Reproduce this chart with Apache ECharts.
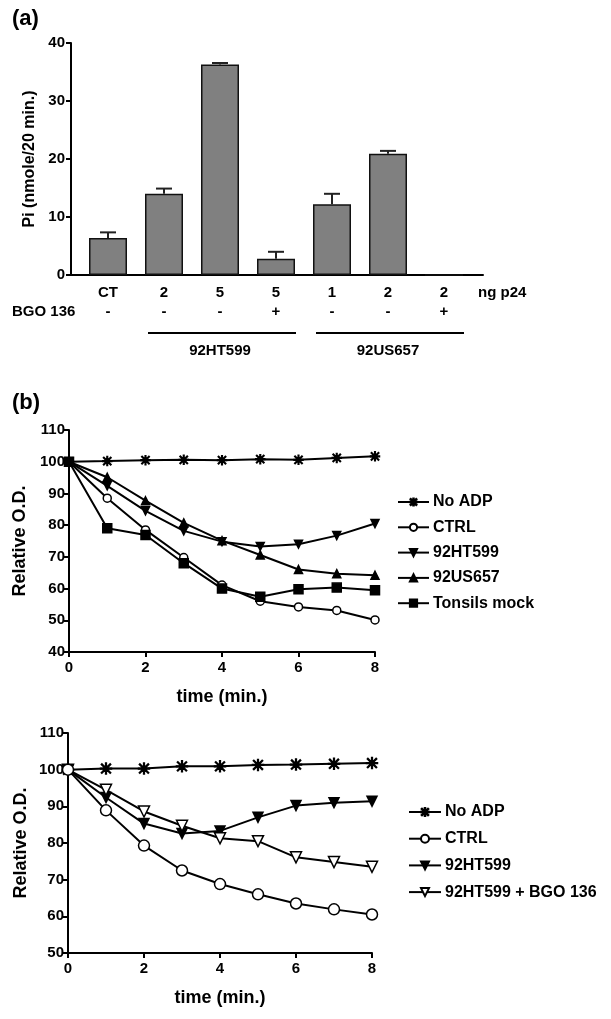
<!DOCTYPE html>
<html>
<head>
<meta charset="utf-8">
<script src="https://cdn.jsdelivr.net/npm/echarts@6/dist/echarts.min.js"></script>
<style>
html,body{margin:0;padding:0;background:#fff;}
#c{width:611px;height:1019px;}
</style>
</head>
<body>
<div id="c"></div>
<script>
// ---- Panel (a) data ----
const aCategories = ['CT', '2', '5', '5', '1', '2', '2'];
const aBgo = ['-', '-', '-', '+', '-', '-', '+'];
const aPi = [6.4, 14.0, 36.3, 2.8, 12.2, 20.9, 0];
const aPiErr = [0.95, 0.9, 0.25, 1.2, 1.8, 0.5, 0];
const aGroups = [
  { label: '92HT599', from: 1, to: 3 },
  { label: '92US657', from: 4, to: 6 }
];

// ---- Panel (b) data ----
const time = [0, 1, 2, 3, 4, 5, 6, 7, 8];
const b1NoAdp = [100, 100.2, 100.5, 100.6, 100.5, 100.8, 100.6, 101.2, 101.7];
const b1Ctrl = [100, 88.5, 78.5, 69.8, 61.1, 56.0, 54.2, 53.1, 50.1];
const b1Ht = [100, 92.4, 84.5, 78.2, 74.8, 73.3, 74.0, 76.7, 80.5];
const b1Us = [100, 95.1, 87.7, 80.7, 75.1, 70.6, 66.0, 64.7, 64.2];
const b1Tonsils = [100, 79.0, 76.9, 68.0, 60.0, 57.4, 59.8, 60.3, 59.5];

const b2NoAdp = [100, 100.3, 100.3, 100.9, 100.9, 101.3, 101.4, 101.6, 101.8];
const b2Ctrl = [100, 88.9, 79.3, 72.5, 68.8, 66.0, 63.5, 61.9, 60.5];
const b2Ht = [100, 92.4, 85.3, 82.6, 83.3, 87.0, 90.2, 91.0, 91.4];
const b2HtBgo = [100, 94.5, 88.6, 84.7, 81.3, 80.5, 76.1, 74.8, 73.5];

const FONT = '"Liberation Sans", Arial, Helvetica, sans-serif';
const STAR = 'path://M9.3,0L10.7,0L10.7,20L9.3,20Z M1.5,2.5L2.5,1.5L18.5,17.5L17.5,18.5Z M17.5,1.5L18.5,2.5L2.5,18.5L1.5,17.5Z M0,9.3L20,9.3L20,10.7L0,10.7Z';

function pairs(ys) { return time.map((t, i) => [t, ys[i]]); }

const axisLineStyle = { show: true, lineStyle: { color: '#000', width: 2 } };
const tickStyle = { show: true, inside: false, length: 5, lineStyle: { color: '#000', width: 2 } };
const lblStyle = { color: '#000', fontFamily: FONT, fontWeight: 'bold', fontSize: 15 };

function lineSeries(name, ys, xi, symbol, size, filled, rotate) {
  return {
    type: 'line', name: name, data: pairs(ys), xAxisIndex: xi, yAxisIndex: xi,
    symbol: symbol, symbolSize: size, symbolRotate: rotate || 0, showAllSymbol: true,
    lineStyle: { color: '#000', width: 2 },
    itemStyle: { color: filled ? '#000' : '#fff', borderColor: '#000', borderWidth: 1.5 },
    emphasis: { disabled: true }, animation: false, z: 3
  };
}

const chart = echarts.init(document.getElementById('c'), null, { renderer: 'canvas' });

const option = {
  animation: false,
  backgroundColor: '#fff',
  textStyle: { fontFamily: FONT },
  grid: [
    { left: 71, top: 43, width: 412, height: 232 },   // a: axes frame
    { left: 80, top: 43, width: 392, height: 232 },   // a: bars
    { left: 69, top: 430, width: 306, height: 222 },  // b top
    { left: 68, top: 733, width: 304, height: 220 }   // b bottom
  ],
  xAxis: [
    { gridIndex: 0, type: 'value', min: 0, max: 1, axisLine: axisLineStyle, axisTick: { show: false }, axisLabel: { show: false }, splitLine: { show: false } },
    { gridIndex: 1, type: 'category', data: aCategories, axisLine: { show: false }, axisTick: { show: false },
      axisLabel: {
        interval: 0, margin: 8,
        formatter: (v, i) => '{c|' + v + '}\n{b|' + aBgo[i] + '}',
        rich: { c: Object.assign({ lineHeight: 19 }, lblStyle), b: Object.assign({ lineHeight: 19 }, lblStyle) }
      } },
    { gridIndex: 2, type: 'value', min: 0, max: 8, interval: 2, axisLine: axisLineStyle, axisTick: tickStyle,
      axisLabel: Object.assign({ margin: 8 }, lblStyle), splitLine: { show: false },
      name: 'time (min.)', nameLocation: 'middle', nameGap: 36,
      nameTextStyle: { color: '#000', fontFamily: FONT, fontWeight: 'bold', fontSize: 18 } },
    { gridIndex: 3, type: 'value', min: 0, max: 8, interval: 2, axisLine: axisLineStyle, axisTick: tickStyle,
      axisLabel: Object.assign({ margin: 8 }, lblStyle), splitLine: { show: false },
      name: 'time (min.)', nameLocation: 'middle', nameGap: 36,
      nameTextStyle: { color: '#000', fontFamily: FONT, fontWeight: 'bold', fontSize: 18 } }
  ],
  yAxis: [
    { gridIndex: 0, type: 'value', min: 0, max: 40, interval: 10, axisLine: axisLineStyle, axisTick: tickStyle,
      axisLabel: Object.assign({ margin: 6 }, lblStyle), splitLine: { show: false },
      name: 'Pi (nmole/20 min.)', nameLocation: 'middle', nameGap: 28,
      nameTextStyle: { color: '#000', fontFamily: FONT, fontWeight: 'bold', fontSize: 16 } },
    { gridIndex: 1, type: 'value', min: 0, max: 40, show: false, splitLine: { show: false } },
    { gridIndex: 2, type: 'value', min: 40, max: 110, interval: 10, axisLine: axisLineStyle, axisTick: tickStyle,
      axisLabel: Object.assign({ margin: 4 }, lblStyle), splitLine: { show: false },
      name: 'Relative O.D.', nameLocation: 'middle', nameGap: 36,
      nameTextStyle: { color: '#000', fontFamily: FONT, fontWeight: 'bold', fontSize: 18 } },
    { gridIndex: 3, type: 'value', min: 50, max: 110, interval: 10, axisLine: axisLineStyle, axisTick: tickStyle,
      axisLabel: Object.assign({ margin: 4 }, lblStyle), splitLine: { show: false },
      name: 'Relative O.D.', nameLocation: 'middle', nameGap: 38,
      nameTextStyle: { color: '#000', fontFamily: FONT, fontWeight: 'bold', fontSize: 18 } }
  ],
  legend: [
    { orient: 'vertical', left: 397, top: 494, padding: 0, itemWidth: 31, itemHeight: 9, itemGap: 9.3,
      data: ['No ADP', 'CTRL', '92HT599', '92US657', 'Tonsils mock'],
      textStyle: { color: '#000', fontFamily: FONT, fontWeight: 'bold', fontSize: 16, lineHeight: 16, padding: [0, 0, 0, -1] },
      selectedMode: false },
    { orient: 'vertical', left: 408, top: 804, padding: 0, itemWidth: 32, itemHeight: 10, itemGap: 10.7,
      data: ['No ADP#2', 'CTRL#2', '92HT599#2', '92HT599 + BGO 136'],
      formatter: n => n.replace('#2', ''),
      textStyle: { color: '#000', fontFamily: FONT, fontWeight: 'bold', fontSize: 16, lineHeight: 16, padding: [0, 0, 0, -1] },
      selectedMode: false }
  ],
  series: [
    { type: 'bar', xAxisIndex: 1, yAxisIndex: 1, data: aPi, barWidth: 38,
      itemStyle: { color: '#808080', borderColor: '#111', borderWidth: 1.5 }, emphasis: { disabled: true }, z: 2 },
    { type: 'custom', xAxisIndex: 1, yAxisIndex: 1, z: 3,
      data: aPi.map((v, i) => [i, v, aPiErr[i]]),
      renderItem: function (params, api) {
        const e = api.value(2);
        if (!e) return null;
        const b = api.coord([api.value(0), api.value(1)]);
        const t = api.coord([api.value(0), api.value(1) + e]);
        const st = { stroke: '#222', lineWidth: 2 };
        return { type: 'group', children: [
          { type: 'line', shape: { x1: b[0], y1: b[1], x2: t[0], y2: t[1] }, style: st },
          { type: 'line', shape: { x1: t[0] - 8, y1: t[1], x2: t[0] + 8, y2: t[1] }, style: st }
        ] };
      } },
    lineSeries('No ADP', b1NoAdp, 2, STAR, 9, true),
    lineSeries('92US657', b1Us, 2, 'triangle', 8, true),
    lineSeries('92HT599', b1Ht, 2, 'triangle', 8, true, 180),
    lineSeries('CTRL', b1Ctrl, 2, 'circle', 8, false),
    lineSeries('Tonsils mock', b1Tonsils, 2, 'rect', 9, true),
    lineSeries('No ADP#2', b2NoAdp, 3, STAR, 11, true),
    lineSeries('92HT599#2', b2Ht, 3, 'triangle', 10, true, 180),
    lineSeries('92HT599 + BGO 136', b2HtBgo, 3, 'triangle', 11, false, 180),
    lineSeries('CTRL#2', b2Ctrl, 3, 'circle', 11, false)
  ]
};
chart.setOption(option);

// annotations positioned through the axes
const g = [];
const txt = (text, x, y, size, align) => ({ type: 'text', x: x, y: y,
  style: { text: text, fill: '#000', font: 'bold ' + size + 'px ' + FONT, textAlign: align || 'left', textVerticalAlign: 'middle' } });
g.push(txt('(a)', 12, 19, 22));
g.push(txt('(b)', 12, 403, 22));
const axisY = chart.convertToPixel({ yAxisIndex: 1 }, 0);
const lastX = chart.convertToPixel({ xAxisIndex: 1 }, aCategories.length - 1);
g.push(txt('ng p24', lastX + 34, axisY + 18, 15));
g.push(txt('BGO 136', 12, axisY + 37, 15));
aGroups.forEach(gr => {
  const x1 = chart.convertToPixel({ xAxisIndex: 1 }, gr.from) - 16;
  const x2 = chart.convertToPixel({ xAxisIndex: 1 }, gr.to) + 20;
  g.push({ type: 'line', shape: { x1: x1, y1: axisY + 58, x2: x2, y2: axisY + 58 }, style: { stroke: '#000', lineWidth: 2 } });
  g.push(txt(gr.label, (x1 + x2) / 2 - 2, axisY + 76, 15, 'center'));
});
chart.setOption({ graphic: g });
</script>
</body>
</html>
